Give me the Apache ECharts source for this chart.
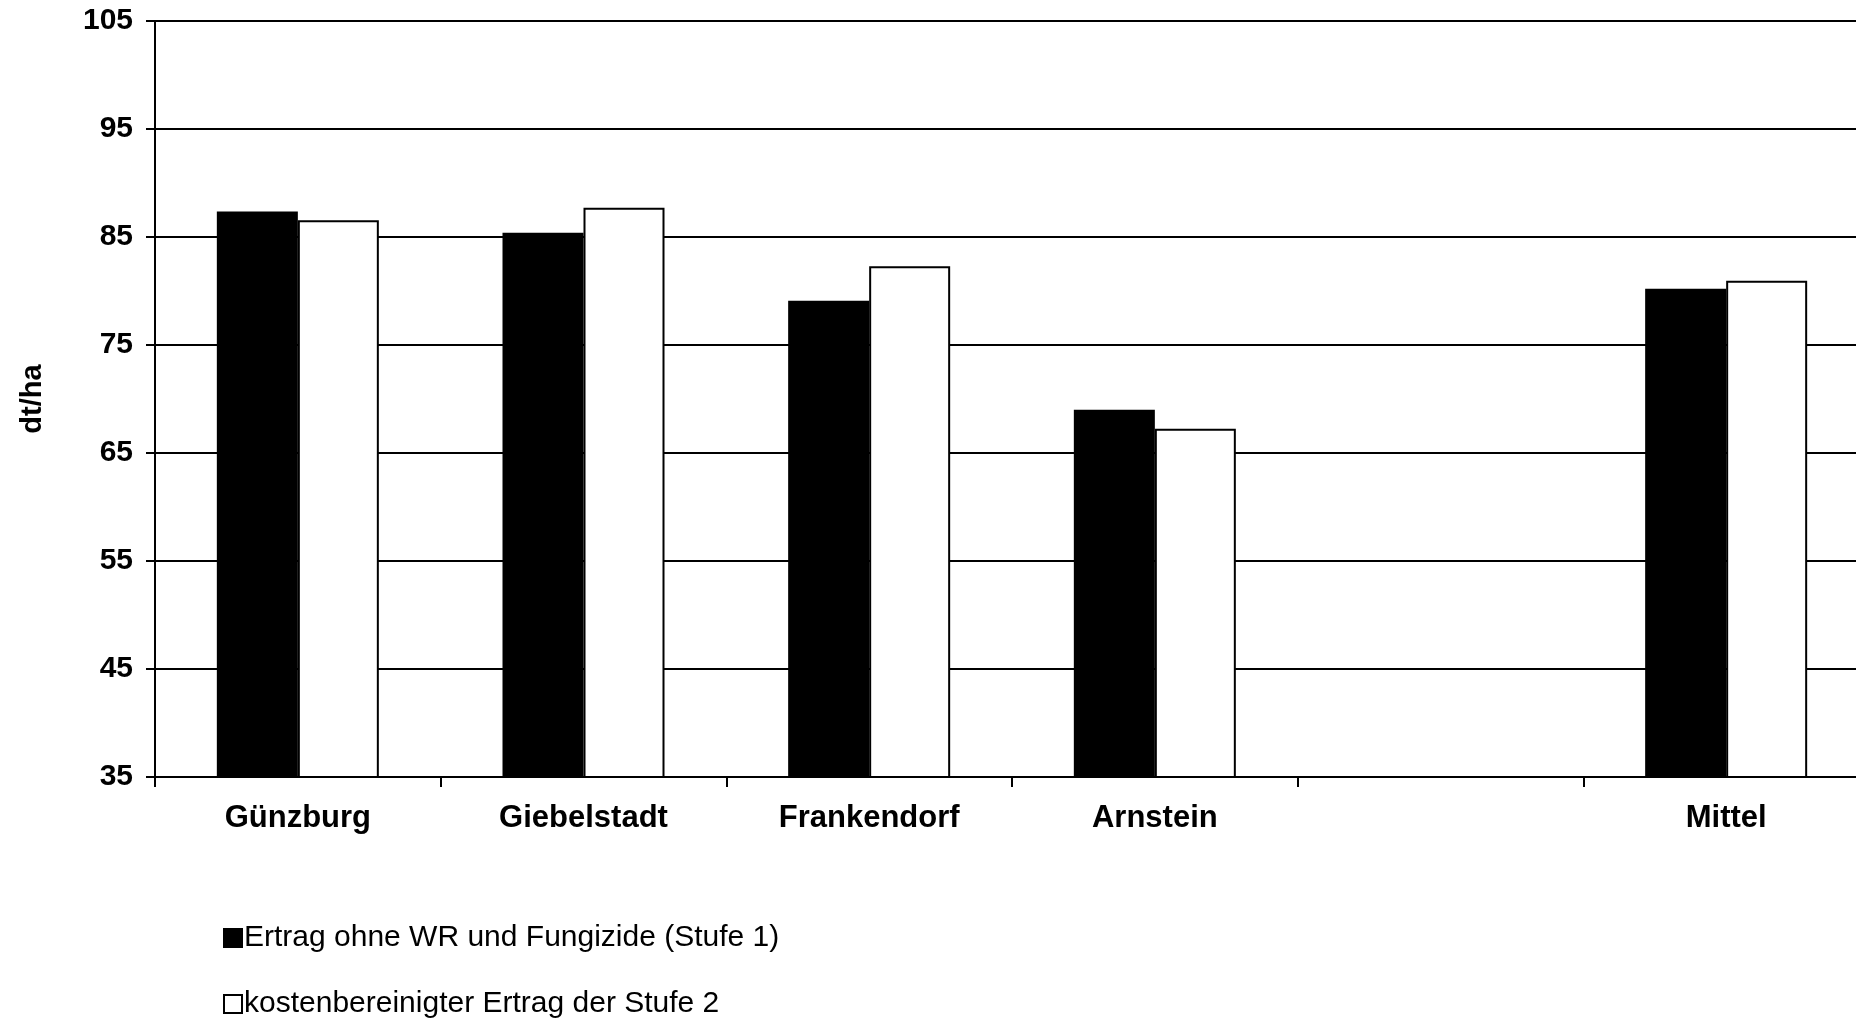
<!DOCTYPE html>
<html>
<head>
<meta charset="utf-8">
<title>Ertrag dt/ha</title>
<script src="https://cdn.jsdelivr.net/npm/echarts@6/dist/echarts.min.js"></script>
<style>
  html, body { margin: 0; padding: 0; background: #ffffff; }
  #chart { width: 1856px; height: 1019px; }
</style>
</head>
<body>
<div id="chart"></div>
<script>
// Standorte (leere Kategorie als Abstand vor dem Mittelwert)
const categories = ['Günzburg', 'Giebelstadt', 'Frankendorf', 'Arnstein', '', 'Mittel'];
// Ertrag ohne Wachstumsregler und Fungizide (Stufe 1), dt/ha
const stufe1 = [87.35, 85.4, 79.1, 69.0, null, 80.2];
// kostenbereinigter Ertrag der Stufe 2, dt/ha
const stufe2 = [86.55, 87.7, 82.3, 67.25, null, 80.95];
const seriesNames = ['Ertrag ohne WR und Fungizide (Stufe 1)', 'kostenbereinigter Ertrag der Stufe 2'];
const yMin = 35, yMax = 105, yStep = 10;

const FONT = '"Liberation Sans", Arial, sans-serif';

const chart = echarts.init(document.getElementById('chart'), null, { renderer: 'canvas' });

// one legend block per series, stacked below the plot
const legendBase = {
  left: 218,
  itemWidth: 18,
  itemHeight: 18,
  itemGap: 0,
  icon: 'rect',
  textStyle: { fontFamily: FONT, fontSize: 30, color: '#000', padding: [0, 0, 0, -3] }
};

chart.setOption({
  animation: false,
  backgroundColor: '#ffffff',
  textStyle: { fontFamily: FONT, color: '#000' },
  grid: { left: 155, top: 21, width: 1714, height: 756, containLabel: false, outerBoundsMode: 'none' },
  legend: [
    Object.assign({}, legendBase, { top: 918, data: [seriesNames[0]] }),
    Object.assign({}, legendBase, { top: 984, data: [seriesNames[1]] })
  ],
  xAxis: {
    type: 'category',
    data: categories,
    axisLine: { lineStyle: { color: '#000', width: 2 } },
    axisTick: { show: true, length: 10, lineStyle: { color: '#000', width: 2 } },
    axisLabel: { fontFamily: FONT, fontSize: 31, fontWeight: 'bold', color: '#000', margin: 26 }
  },
  yAxis: {
    type: 'value',
    min: yMin,
    max: yMax,
    interval: yStep,
    name: 'dt/ha',
    nameLocation: 'middle',
    nameGap: 108,
    nameRotate: 90,
    nameTextStyle: { fontFamily: FONT, fontSize: 29, fontWeight: 'bold', color: '#000' },
    axisLine: { show: true, lineStyle: { color: '#000', width: 2 } },
    axisTick: { show: true, length: 9, lineStyle: { color: '#000', width: 2 } },
    axisLabel: { fontFamily: FONT, fontSize: 30, fontWeight: 'bold', color: '#000', margin: 22 },
    splitLine: { show: true, lineStyle: { color: '#000', width: 2 } }
  },
  series: [
    {
      name: seriesNames[0],
      type: 'bar',
      data: stufe1,
      barWidth: 81,
      barGap: '0%',
      itemStyle: { color: '#000000', borderColor: '#000', borderWidth: 1.5 }
    },
    {
      name: seriesNames[1],
      type: 'bar',
      data: stufe2,
      barWidth: 81,
      barGap: '0%',
      itemStyle: { color: '#ffffff', borderColor: '#000', borderWidth: 2 }
    }
  ]
});
</script>
</body>
</html>
